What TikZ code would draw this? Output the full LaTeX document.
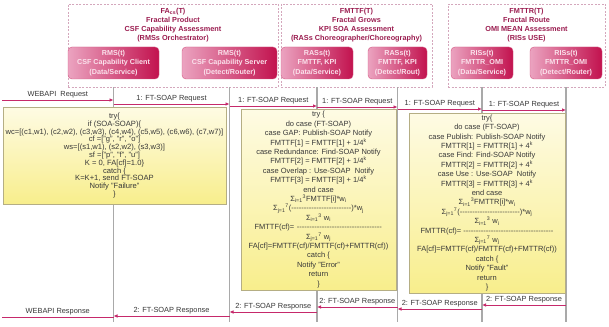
\documentclass[tikz,border=0pt]{standalone}
\usepackage{fontspec}
\setmainfont{Liberation Sans}
\usetikzlibrary{arrows.meta}
\definecolor{pkL}{HTML}{EBA3C0}
\definecolor{pkR}{HTML}{C2124E}
\definecolor{pkT}{HTML}{FBE2EC}
\definecolor{ttl}{HTML}{9B1D50}
\definecolor{grpB}{HTML}{D4A7BC}
\definecolor{arr}{HTML}{C6296B}
\definecolor{life}{HTML}{A9A9A9}
\definecolor{ntT}{HTML}{FEFBE4}
\definecolor{ntB}{HTML}{F8EE8C}
\definecolor{ntD}{HTML}{B5AE84}
\definecolor{txt}{HTML}{383838}
\newcommand\sgm[2]{Σ\textsubscript{#1}\textsuperscript{#2}}
\newcommand\dfill[1]{\hbox to #1{\cleaders\hbox{-}\hfill}}
\tikzset{
 grp/.style={draw=grpB, dash pattern=on 2pt off 1.5pt, line width=0.7pt},
 pinkbox/.style={rounded corners=4pt, left color=pkL, right color=pkR, draw=pkR!70, line width=0.4pt, text=pkT, font=\bfseries\fontsize{7.2}{9.3}\selectfont, align=center, inner sep=0pt},
 ttlstyle/.style={text=ttl, font=\bfseries\fontsize{7.3}{8.9}\selectfont, align=center, inner sep=0pt, anchor=north},
 lifeline/.style={draw=life, line width=1.2pt},
 msg/.style={draw=arr, line width=0.9pt, -{Latex[length=4pt,width=3.6pt]}},
 msgplain/.style={draw=arr, line width=0.9pt},
 msglbl/.style={text=txt, font=\fontsize{7.4}{8}\selectfont, inner sep=1.5pt, above},
 note/.style={draw=ntD, line width=0.6pt, top color=ntT, bottom color=ntB, text=txt, align=center, inner sep=0pt},
 noteA/.style={note, font=\fontsize{7.6}{7.8}\selectfont},
 noteB/.style={note, font=\fontsize{7.5}{9.4}\selectfont},
}
\begin{document}
\begin{tikzpicture}[x=1pt,y=-1pt]
\useasboundingbox[fill=white] (0,0) rectangle (609,326);

% groups
\node[grp, minimum width=210pt, minimum height=83pt] (g1) at (173,45.5) {};
\node[grp, minimum width=151pt, minimum height=83pt] (g2) at (356.5,45.5) {};
\node[grp, minimum width=157pt, minimum height=83pt] (g3) at (526.5,45.5) {};
\node[ttlstyle] (t1) at (173,8.5) {FA\textsubscript{cs}(T)\\Fractal Product\\CSF Capability Assessment\\(RMSs Orchestrator)};
\node[ttlstyle] (t2) at (356.5,8.5) {FMTTF(T)\\Fractal Grows\\KPI SOA Assessment\\(RASs Choreographer/Choreography)};
\node[ttlstyle] (t3) at (526.5,8.5) {FMTTR(T)\\Fractal Route\\OMI MEAN Assessment\\(RISs USE)};

% participants
\node[pinkbox, minimum width=91pt, minimum height=32pt] (c1) at (113.5,63) {RMS(t)\\CSF Capability Client\\(Data/Service)};
\node[pinkbox, minimum width=95pt, minimum height=32pt] (c2) at (229.5,63) {RMS(t)\\CSF Capability Server\\(Detect/Router)};
\node[pinkbox, minimum width=72pt, minimum height=32pt] (c3) at (317,63) {RASs(t)\\FMTTF, KPI\\(Data/Service)};
\node[pinkbox, minimum width=59pt, minimum height=32pt] (c4) at (397.5,63) {RASs(t)\\FMTTF, KPI\\(Detect/Rout)};
\node[pinkbox, minimum width=62pt, minimum height=32pt] (c5) at (482,63) {RISs(t)\\FMTTR\_OMI\\(Data/Service)};
\node[pinkbox, minimum width=72pt, minimum height=32pt] (c6) at (566,63) {RISs(t)\\FMTTR\_OMI\\(Detect/Router)};

% lifelines
\foreach \c/\g in {c1/g1,c2/g1,c3/g2,c4/g2,c5/g3,c6/g3}{
  \draw[lifeline] (\c |- \g.south) -- (\c |- 0,322);
}

% notes
\node[noteA, minimum width=223pt, minimum height=97pt] (n1) at (114.5,155.5) {try\{\\
if (SOA-SOAP)\{\\
wc=[(c1,w1), (c2,w2), (c3,w3), (c4,w4), (c5,w5), (c6,w6), (c7,w7)]\\
cf =["g", "r", "o"]\\
ws=[(s1,w1), (s2,w2), (s3,w3)]\\
sf =["p", "f", "u"]\\
K = 0, FA[cf]=1.0\}\\
catch \{\\
K=K+1, send FT-SOAP\\
Notify "Failure"\\
\}};

\node[noteB, minimum width=155pt, minimum height=181pt] (n2) at (318.5,199.5) {try \{\\
do case (FT-SOAP)\\
case GAP: Publish-SOAP Notify\\
FMTTF[1] = FMTTF[1] + 1/4\textsuperscript{k}\\
case Redundance: Find-SOAP Notify\\
FMTTF[2] = FMTTF[2] + 1/4\textsuperscript{k}\\
case Overlap : Use-SOAP\ \ Notify\\
FMTTF[3] = FMTTF[3] + 1/4\textsuperscript{k}\\
end case\\
\sgm{i=1}{3}FMTTF[i]*w\textsubscript{i}\\
\sgm{j=1}{7}(\dfill{60pt})*w\textsubscript{j}\\
\sgm{i=1}{3} w\textsubscript{i}\\
FMTTF(cf)= \dfill{86pt}\\
\sgm{j=1}{7} w\textsubscript{j}\\
FA[cf]=FMTTF(cf)/FMTTF(cf)+FMTTR(cf))\\
catch \{\\
Notify "Error"\\
return\\
\}};

\node[noteB, minimum width=156pt, minimum height=180pt] (n3) at (487,203) {try\{\\
do case (FT-SOAP)\\
case Publish: Publish-SOAP Notify\\
FMTTR[1] = FMTTR[1] + 4\textsuperscript{k}\\
case Find: Find-SOAP Notify\\
FMTTR[2] = FMTTR[2] + 4\textsuperscript{k}\\
case Use : Use-SOAP\ \ Notify\\
FMTTR[3] = FMTTR[3] + 4\textsuperscript{k}\\
end case\\
\sgm{i=1}{3}FMTTR[i]*w\textsubscript{i}\\
\sgm{j=1}{7}(\dfill{60pt})*w\textsubscript{j}\\
\sgm{i=1}{3} w\textsubscript{i}\\
FMTTR(cf)= \dfill{90pt}\\
\sgm{j=1}{7} w\textsubscript{j}\\
FA[cf]=FMTTF(cf)/FMTTF(cf)+FMTTR(cf))\\
catch \{\\
Notify "Fault"\\
return\\
\}};

% requests
\coordinate (wL) at (2,100);
\coordinate (wR) at (2,317);
\draw[msg] (wL) -- node[msglbl]{WEBAPI\ \ Request} (c1 |- wL);
\draw[msg] (c1 |- 0,104) -- node[msglbl]{1: FT-SOAP Request} (c2 |- 0,104);
\draw[msg] (c2 |- 0,106) -- node[msglbl]{1: FT-SOAP Request} (c3 |- 0,106);
\draw[msg] (c3 |- 0,107) -- node[msglbl]{1: FT-SOAP Request} (c4 |- 0,107);
\draw[msg] (c4 |- 0,109) -- node[msglbl]{1: FT-SOAP Request} (c5 |- 0,109);
\draw[msg] (c5 |- 0,110) -- node[msglbl]{1: FT-SOAP Request} (c6 |- 0,110);

% responses
\draw[msg] (c6 |- 0,305) -- node[msglbl]{2: FT-SOAP Response} (c5 |- 0,305);
\draw[msg] (c5 |- 0,309) -- node[msglbl]{2: FT-SOAP Response} (c4 |- 0,309);
\draw[msg] (c4 |- 0,307) -- node[msglbl]{2: FT-SOAP Response} (c3 |- 0,307);
\draw[msg] (c3 |- 0,312) -- node[msglbl]{2: FT-SOAP Response} (c2 |- 0,312);
\draw[msg] (c2 |- 0,316) -- node[msglbl]{2: FT-SOAP Response} (c1 |- 0,316);
\draw[msgplain] (c1 |- wR) -- node[msglbl]{WEBAPI Response} (wR);
\end{tikzpicture}
\end{document}
